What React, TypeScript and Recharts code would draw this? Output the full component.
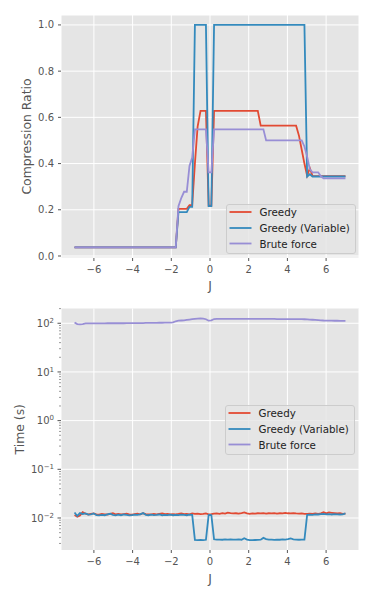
import React from "react";
import { LineChart, Line, XAxis, YAxis, CartesianGrid } from "recharts";

// J sample points (100 evenly spaced values from -7 to 7)
const J = [
  -7.0, -6.86, -6.72, -6.58, -6.43, -6.29, -6.15, -6.01, -5.87, -5.73,
  -5.59, -5.44, -5.3, -5.16, -5.02, -4.88, -4.74, -4.6, -4.45, -4.31,
  -4.17, -4.03, -3.89, -3.75, -3.61, -3.46, -3.32, -3.18, -3.04, -2.9,
  -2.76, -2.62, -2.47, -2.33, -2.19, -2.05, -1.91, -1.77, -1.63, -1.48,
  -1.34, -1.2, -1.06, -0.92, -0.78, -0.64, -0.49, -0.35, -0.21, -0.07,
  0.07, 0.21, 0.35, 0.49, 0.64, 0.78, 0.92, 1.06, 1.2, 1.34,
  1.48, 1.63, 1.77, 1.91, 2.05, 2.19, 2.33, 2.47, 2.62, 2.76,
  2.9, 3.04, 3.18, 3.32, 3.46, 3.61, 3.75, 3.89, 4.03, 4.17,
  4.31, 4.45, 4.6, 4.74, 4.88, 5.02, 5.16, 5.3, 5.44, 5.59,
  5.73, 5.87, 6.01, 6.15, 6.29, 6.43, 6.58, 6.72, 6.86, 7.0,
];

// compression ratio
const greedyRatio = [
  0.037, 0.037, 0.037, 0.037, 0.037, 0.037, 0.037, 0.037, 0.037, 0.037,
  0.037, 0.037, 0.037, 0.037, 0.037, 0.037, 0.037, 0.037, 0.037, 0.037,
  0.037, 0.037, 0.037, 0.037, 0.037, 0.037, 0.037, 0.037, 0.037, 0.037,
  0.037, 0.037, 0.037, 0.037, 0.037, 0.037, 0.037, 0.037, 0.204, 0.204,
  0.204, 0.204, 0.22, 0.22, 0.4, 0.56, 0.628, 0.628, 0.628, 0.218,
  0.218, 0.628, 0.628, 0.628, 0.628, 0.628, 0.628, 0.628, 0.628, 0.628,
  0.628, 0.628, 0.628, 0.628, 0.628, 0.628, 0.628, 0.628, 0.564, 0.564,
  0.564, 0.564, 0.564, 0.564, 0.564, 0.564, 0.564, 0.564, 0.564, 0.564,
  0.564, 0.564, 0.52, 0.46, 0.4, 0.347, 0.38, 0.346, 0.346, 0.346,
  0.346, 0.346, 0.346, 0.346, 0.346, 0.346, 0.346, 0.346, 0.346, 0.346,
];
const variableRatio = [
  0.037, 0.037, 0.037, 0.037, 0.037, 0.037, 0.037, 0.037, 0.037, 0.037,
  0.037, 0.037, 0.037, 0.037, 0.037, 0.037, 0.037, 0.037, 0.037, 0.037,
  0.037, 0.037, 0.037, 0.037, 0.037, 0.037, 0.037, 0.037, 0.037, 0.037,
  0.037, 0.037, 0.037, 0.037, 0.037, 0.037, 0.037, 0.037, 0.19, 0.19,
  0.19, 0.19, 0.213, 0.213, 1, 1, 1, 1, 1, 0.216,
  0.216, 1, 1, 1, 1, 1, 1, 1, 1, 1,
  1, 1, 1, 1, 1, 1, 1, 1, 1, 1,
  1, 1, 1, 1, 1, 1, 1, 1, 1, 1,
  1, 1, 1, 1, 1, 0.344, 0.354, 0.344, 0.344, 0.344,
  0.344, 0.344, 0.344, 0.344, 0.344, 0.344, 0.344, 0.344, 0.344, 0.344,
];
const bruteRatio = [
  0.037, 0.037, 0.037, 0.037, 0.037, 0.037, 0.037, 0.037, 0.037, 0.037,
  0.037, 0.037, 0.037, 0.037, 0.037, 0.037, 0.037, 0.037, 0.037, 0.037,
  0.037, 0.037, 0.037, 0.037, 0.037, 0.037, 0.037, 0.037, 0.037, 0.037,
  0.037, 0.037, 0.037, 0.037, 0.037, 0.037, 0.037, 0.037, 0.216, 0.252,
  0.278, 0.278, 0.39, 0.426, 0.548, 0.548, 0.548, 0.548, 0.548, 0.362,
  0.362, 0.548, 0.548, 0.548, 0.548, 0.548, 0.548, 0.548, 0.548, 0.548,
  0.548, 0.548, 0.548, 0.548, 0.548, 0.548, 0.548, 0.548, 0.548, 0.548,
  0.5, 0.5, 0.5, 0.5, 0.5, 0.5, 0.5, 0.5, 0.5, 0.5,
  0.5, 0.5, 0.5, 0.5, 0.474, 0.43, 0.375, 0.362, 0.362, 0.362,
  0.345, 0.336, 0.336, 0.336, 0.336, 0.336, 0.336, 0.336, 0.336, 0.336,
];

// time (s)
const greedyTime = [
  0.0115, 0.0106, 0.0112, 0.0132, 0.0122, 0.0118, 0.0121, 0.0124, 0.0119, 0.0117,
  0.0121, 0.0119, 0.0118, 0.0122, 0.0125, 0.0119, 0.0121, 0.0118, 0.012, 0.0122,
  0.0119, 0.0117, 0.012, 0.0122, 0.0119, 0.0125, 0.012, 0.0118, 0.0119, 0.0121,
  0.0119, 0.0122, 0.0124, 0.012, 0.0121, 0.0118, 0.012, 0.0119, 0.0121, 0.0124,
  0.012, 0.0121, 0.0119, 0.0124, 0.0121, 0.0123, 0.012, 0.0121, 0.0124, 0.0119,
  0.012, 0.0123, 0.0124, 0.0122, 0.0126, 0.0123, 0.0129, 0.0126, 0.0124, 0.0125,
  0.0123, 0.0126, 0.013, 0.0124, 0.0122, 0.0124, 0.0123, 0.0125, 0.0124, 0.0126,
  0.0123, 0.0125, 0.0124, 0.0126, 0.0123, 0.0125, 0.0124, 0.0127, 0.0125, 0.0124,
  0.0126, 0.0124, 0.0123, 0.0124, 0.0122, 0.0121, 0.0123, 0.0122, 0.0124, 0.0122,
  0.0124, 0.0131, 0.0124, 0.013, 0.0128, 0.0126, 0.0124, 0.0125, 0.0122, 0.0123,
];
const variableTime = [
  0.013, 0.011, 0.0126, 0.0121, 0.0124, 0.0117, 0.0119, 0.0124, 0.0115, 0.0113,
  0.0116, 0.0114, 0.0118, 0.0122, 0.0116, 0.0113, 0.0117, 0.0114, 0.0118, 0.0116,
  0.0113, 0.0115, 0.0117, 0.0116, 0.0119, 0.0126, 0.0116, 0.0114, 0.0117, 0.0115,
  0.0116, 0.0118, 0.0114, 0.0116, 0.0115, 0.0117, 0.0114, 0.0116, 0.0115, 0.0117,
  0.0116, 0.0114, 0.0117, 0.0116, 0.00355, 0.00352, 0.00354, 0.0035, 0.00356, 0.0115,
  0.0114, 0.00365, 0.00358, 0.0036, 0.00357, 0.00362, 0.0036, 0.00364, 0.00358, 0.00361,
  0.00363, 0.00357, 0.00385, 0.0036, 0.00352, 0.0035, 0.00353, 0.00355, 0.00358, 0.0039,
  0.00368, 0.0036, 0.00358, 0.00355, 0.0036, 0.00357, 0.00362, 0.0036, 0.00366, 0.0038,
  0.00365, 0.0036, 0.00357, 0.00359, 0.00358, 0.0116, 0.0117, 0.0116, 0.0119, 0.0118,
  0.012, 0.0121, 0.0119, 0.012, 0.0118, 0.012, 0.0119, 0.0118, 0.0119, 0.0124,
];
const bruteTime = [
  104, 96, 95, 96, 99, 99, 99, 99, 99.5, 99.5,
  99.5, 99.5, 100, 100, 100, 100, 100, 100, 100, 100.5,
  100.5, 100.5, 101, 101, 101, 101, 101.5, 101.5, 102, 102,
  102, 102.5, 102.5, 103, 103, 103, 104, 110, 113, 114,
  115, 117, 119, 121, 123, 125, 126, 125, 121, 113,
  115, 122, 123, 123, 123, 123, 123, 123, 123, 123,
  123, 123, 123, 123, 123, 123, 123, 123, 123, 122.5,
  122.5, 122.5, 122.5, 122.5, 122, 122, 122, 122, 122, 122,
  122, 122, 121.5, 121.5, 121, 120, 119, 118, 117, 116,
  115, 114, 113.5, 113, 113, 112.5, 112.5, 112, 112, 112,
];

const xTicks = [-6, -4, -2, 0, 2, 4, 6];
const ratioTicks = [0, 0.2, 0.4, 0.6, 0.8, 1.0];
const timeMajor = [0.01, 0.1, 1, 10, 100];
const timeMinor = [
  0.003, 0.004, 0.005, 0.006, 0.007, 0.008, 0.009,
  0.02, 0.03, 0.04, 0.05, 0.06, 0.07, 0.08, 0.09,
  0.2, 0.3, 0.4, 0.5, 0.6, 0.7, 0.8, 0.9,
  2, 3, 4, 5, 6, 7, 8, 9,
  20, 30, 40, 50, 60, 70, 80, 90, 200,
];
const timeExp: Record<string, string> = { "0.01": "\u22122", "0.1": "\u22121", "1": "0", "10": "1", "100": "2" };

const series = [
  { key: "greedy", name: "Greedy", color: "#E24A33" },
  { key: "variable", name: "Greedy (Variable)", color: "#348ABD" },
  { key: "brute", name: "Brute force", color: "#988ED5" },
];

const ratioData = J.map((j, i) => ({ j, greedy: greedyRatio[i], variable: variableRatio[i], brute: bruteRatio[i] }));
const timeData = J.map((j, i) => ({ j, greedy: greedyTime[i], variable: variableTime[i], brute: bruteTime[i] }));

const FONT = "DejaVu Sans, sans-serif";
const GREY = "#555555";
const PLOT_LEFT = 61;

const fmtMinus = (v: number) => (v < 0 ? "\u2212" + Math.abs(v) : String(v));

const xTitle = (cy: number) => (props: any) => {
  const vb = props.viewBox;
  const cx = vb.x + vb.width / 2;
  return (
    <text x={cx} y={cy} textAnchor="middle" dominantBaseline="central" fontSize={12.4} fill={GREY} fontFamily={FONT}>
      J
    </text>
  );
};

const yTitle = (text: string, cx: number) => (props: any) => {
  const vb = props.viewBox;
  const cy = vb.y + vb.height / 2;
  return (
    <text x={cx} y={cy} transform={`rotate(-90 ${cx} ${cy})`} textAnchor="middle" dominantBaseline="central" fontSize={12.4} fill={GREY} fontFamily={FONT}>
      {text}
    </text>
  );
};

const LogTick = (props: any) => {
  const { y, payload } = props;
  const v = payload.value;
  const major = timeMajor.includes(v);
  return (
    <g>
      <line x1={PLOT_LEFT - (major ? 3.5 : 2)} x2={PLOT_LEFT} y1={y} y2={y} stroke={GREY} strokeWidth={major ? 1 : 0.6} />
      {major && (
        <text x={PLOT_LEFT - 7} y={y + 3.6} textAnchor="end" fontSize={10} fill={GREY} fontFamily={FONT}>
          <tspan>10</tspan>
          <tspan dy={-4} fontSize={7}>{timeExp[String(v)]}</tspan>
        </text>
      )}
    </g>
  );
};

function LegendBox({ left, top }: { left: number; top: number }) {
  const rows = [8, 24, 39.5];
  return (
    <svg width={130} height={50} style={{ position: "absolute", left, top }}>
      <rect x={0.5} y={0.5} width={129} height={49} rx={2.5} fill="#E5E5E5" fillOpacity={0.8} stroke="#CCCCCC" />
      {series.map((s, i) => (
        <g key={s.key}>
          <line x1={3.5} x2={25.5} y1={rows[i]} y2={rows[i]} stroke={s.color} strokeWidth={1.8} />
          <text x={33.5} y={rows[i]} dominantBaseline="central" fontSize={10.3} fill="#222" fontFamily={FONT}>
            {s.name}
          </text>
        </g>
      ))}
    </svg>
  );
}

export default function App() {
  return (
    <div style={{ position: "absolute", left: 0, top: 0, width: 374, height: 598, background: "#fff" }}>
      <div style={{ position: "absolute", left: 0, top: 290 }}>
        <LineChart width={374} height={308} data={timeData} margin={{ top: 18.5, right: 15, bottom: 0, left: 0 }}>
          <CartesianGrid fill="#E5E5E5" stroke="#FFFFFF" strokeWidth={1} horizontalValues={timeMajor} />
          <XAxis
            type="number"
            dataKey="j"
            domain={[-7.7, 7.7]}
            ticks={xTicks}
            interval={0}
            allowDataOverflow
            tickFormatter={fmtMinus}
            axisLine={false}
            tickLine={{ stroke: GREY }}
            tickSize={3}
            tickMargin={4.5}
            tick={{ fill: GREY, fontSize: 10, fontFamily: FONT }}
            height={48}
            label={{ content: xTitle(288) }}
          />
          <YAxis
            type="number"
            scale="log"
            domain={[0.0022, 201]}
            ticks={[...timeMinor, ...timeMajor]}
            interval={0}
            allowDataOverflow
            axisLine={false}
            tickLine={false}
            tick={<LogTick />}
            width={PLOT_LEFT}
            label={{ content: yTitle("Time (s)", 19) }}
          />
          {series.map((s) => (
            <Line key={s.key} type="linear" dataKey={s.key} name={s.name} stroke={s.color} strokeWidth={1.8} dot={false} isAnimationActive={false} />
          ))}
        </LineChart>
        <LegendBox left={225.3} top={115} />
      </div>
      <div style={{ position: "absolute", left: 0, top: 0 }}>
        <LineChart width={374} height={300} data={ratioData} margin={{ top: 15, right: 15, bottom: 0, left: 0 }}>
          <CartesianGrid fill="#E5E5E5" stroke="#FFFFFF" strokeWidth={1} />
          <XAxis
            type="number"
            dataKey="j"
            domain={[-7.7, 7.7]}
            ticks={xTicks}
            interval={0}
            allowDataOverflow
            tickFormatter={fmtMinus}
            axisLine={false}
            tickLine={{ stroke: GREY }}
            tickSize={3}
            tickMargin={4.5}
            tick={{ fill: GREY, fontSize: 10, fontFamily: FONT }}
            height={42}
            label={{ content: xTitle(285) }}
          />
          <YAxis
            type="number"
            domain={[-0.0087, 1.043]}
            ticks={ratioTicks}
            interval={0}
            allowDataOverflow
            tickFormatter={(v: number) => v.toFixed(1)}
            axisLine={false}
            tickLine={{ stroke: GREY }}
            tickSize={3}
            tickMargin={4}
            tick={{ fill: GREY, fontSize: 10, fontFamily: FONT }}
            width={PLOT_LEFT}
            label={{ content: yTitle("Compression Ratio", 26) }}
          />
          {series.map((s) => (
            <Line key={s.key} type="linear" dataKey={s.key} name={s.name} stroke={s.color} strokeWidth={1.8} dot={false} isAnimationActive={false} />
          ))}
        </LineChart>
        <LegendBox left={225.5} top={204} />
      </div>
    </div>
  );
}
